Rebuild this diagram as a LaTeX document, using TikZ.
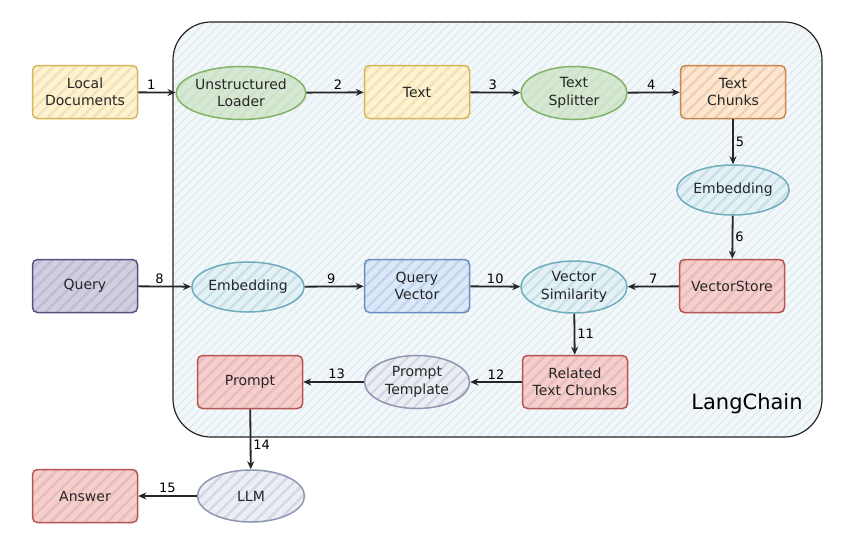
\documentclass[tikz,border=0pt]{standalone}
\usepackage{fontspec}
\setmainfont{DejaVu Sans}
\usetikzlibrary{shapes.geometric,patterns.meta,arrows.meta}
\definecolor{yellowF}{HTML}{FFF2CC}\definecolor{yellowD}{HTML}{D6B656}
\definecolor{greenF}{HTML}{D5E8D4}\definecolor{greenD}{HTML}{82B366}
\definecolor{orangeF}{HTML}{FFE6CC}\definecolor{orangeD}{HTML}{C8864A}
\definecolor{tealF}{HTML}{E4F2F6}\definecolor{tealD}{HTML}{6FADBD}
\definecolor{purpleF}{HTML}{D0CEE2}\definecolor{purpleD}{HTML}{56517E}
\definecolor{blueF}{HTML}{DAE8FC}\definecolor{blueD}{HTML}{6C8EBF}
\definecolor{redF}{HTML}{F8CECC}\definecolor{redD}{HTML}{B85450}
\definecolor{greyF}{HTML}{ECEEF5}\definecolor{greyD}{HTML}{8F97B0}
\definecolor{contF}{HTML}{F2F7FA}\definecolor{contH}{HTML}{DCE7EE}
\definecolor{ink}{HTML}{262626}
\tikzset{
  sk/.style 2 args={draw=#2, line width=1.5pt, preaction={fill=#1},
    preaction={pattern={Lines[angle=45,distance=8pt,line width=2.4pt]}, pattern color=#2!38}},
  boxn/.style={rectangle, rounded corners=5pt, minimum width=105pt, minimum height=53pt,
    inner sep=0pt, align=center, font=\fontsize{14}{17.5}\selectfont, text=ink},
  elln/.style={ellipse, minimum width=106pt, minimum height=53pt,
    inner sep=0pt, align=center, font=\fontsize{14}{17.5}\selectfont, text=ink},
  arr/.style={draw=ink, line width=1.8pt, -{Stealth[length=8pt,width=7pt]}},
  lbl/.style={font=\fontsize{13}{15}\selectfont, text=black, inner sep=2pt},
}
\begin{document}
\begin{tikzpicture}[x=1pt,y=-1pt]
\useasboundingbox (0,0) rectangle (844,550);
\fill[white] (0,0) rectangle (844,550);
% container
\path[fill=contF, rounded corners=38pt,
  postaction={pattern={Lines[angle=45,distance=6pt,line width=1pt]}, pattern color=contH}]
  (173,22) rectangle (822,437);
\draw[ink, line width=1.2pt, rounded corners=38pt] (173,22) rectangle (822,437);
\node[text=black, font=\fontsize{21}{24}\selectfont] (lc) at (747,404) {LangChain};

% nodes
\node[boxn, sk={yellowF}{yellowD}] (ld) at (85,92) {Local\\Documents};
\node[elln, minimum width=92pt, sk={greenF}{greenD}] (ul) at (241,93) {Unstructured\\Loader};
\node[boxn, sk={yellowF}{yellowD}] (tx) at (417,92) {Text};
\node[elln, sk={greenF}{greenD}] (ts) at (574,93) {Text\\Splitter};
\node[boxn, sk={orangeF}{orangeD}] (tc) at (733,92) {Text\\Chunks};
\node[elln, minimum height=50pt, sk={tealF}{tealD}] (em1) at (733,190) {Embedding};
\node[boxn, sk={redF}{redD}] (vs) at (732,286) {VectorStore};
\node[boxn, sk={purpleF}{purpleD}] (q) at (85,286) {Query};
\node[elln, minimum width=103pt, minimum height=50pt, sk={tealF}{tealD}] (em2) at (248,287) {Embedding};
\node[boxn, sk={blueF}{blueD}] (qv) at (417,286) {Query\\Vector};
\node[elln, minimum height=52pt, sk={tealF}{tealD}] (sim) at (574,287) {Vector\\Similarity};
\node[boxn, sk={redF}{redD}] (rtc) at (575,382) {Related\\Text Chunks};
\node[elln, minimum width=105pt, sk={greyF}{greyD}] (pt) at (417,382) {Prompt\\Template};
\node[boxn, sk={redF}{redD}] (pr) at (250,382) {Prompt};
\node[elln, minimum width=107pt, minimum height=52pt, sk={greyF}{greyD}] (llm) at (251,496) {LLM};
\node[boxn, sk={redF}{redD}] (ans) at (85,496) {Answer};

% connectors
\draw[arr] (ld) -- node[lbl, above, pos=0.35] {1} (ul);
\draw[arr] (ul) -- node[lbl, above, pos=0.55] {2} (tx);
\draw[arr] (tx) -- node[lbl, above, pos=0.45] {3} (ts);
\draw[arr] (ts) -- node[lbl, above, pos=0.45] {4} (tc);
\draw[arr] (tc) -- node[lbl, right] {5} (em1);
\draw[arr] (em1) -- node[lbl, right] {6} (vs);
\draw[arr] (vs) -- node[lbl, above, pos=0.5] {7} (sim);
\draw[arr] (q) -- node[lbl, above, pos=0.4] {8} (em2);
\draw[arr] (em2) -- node[lbl, above, pos=0.45] {9} (qv);
\draw[arr] (qv) -- node[lbl, above, pos=0.5] {10} (sim);
\draw[arr] (sim) -- node[lbl, right] {11} (rtc);
\draw[arr] (rtc) -- node[lbl, above, pos=0.5] {12} (pt);
\draw[arr] (pt) -- node[lbl, above, pos=0.45] {13} (pr);
\draw[arr] (pr) -- node[lbl, right, pos=0.6] {14} (llm);
\draw[arr] (llm) -- node[lbl, above, pos=0.5] {15} (ans);
\end{tikzpicture}
\end{document}
